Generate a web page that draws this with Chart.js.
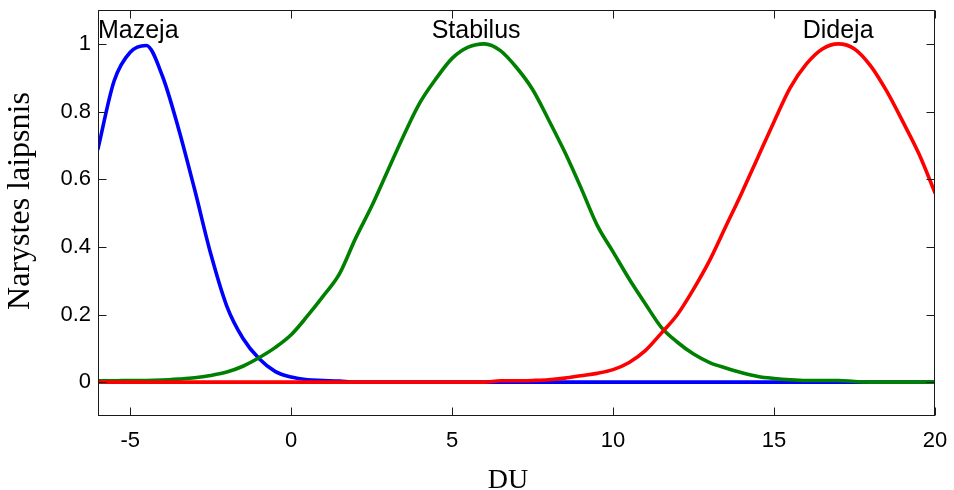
<!DOCTYPE html>
<html>
<head>
<meta charset="utf-8">
<script src="https://cdn.jsdelivr.net/npm/chart.js@4/dist/chart.umd.min.js"></script>
<style>
  html, body { margin: 0; padding: 0; background: #ffffff; }
  canvas { display: block; }
</style>
</head>
<body>
<canvas id="c" width="954" height="490"></canvas>
<script>
// ---- data ----
const xValues = [-6, -5.5, -5, -4.5, -4, -3.5, -3, -2.5, -2, -1.5, -1, -0.5,
  0, 0.5, 1, 1.5, 2, 2.5, 3, 3.5, 4, 4.5, 5, 5.5, 6, 6.5, 7, 7.5, 8, 8.5, 9, 9.5,
  10, 10.5, 11, 11.5, 12, 12.5, 13, 13.5, 14, 14.5, 15, 15.5, 16, 16.5, 17, 17.5,
  18, 18.5, 19, 19.5, 20];

const mazeja = [0.69, 0.89, 0.975, 0.995, 0.905, 0.75, 0.57, 0.38, 0.225, 0.13, 0.07, 0.032,
  0.015, 0.007, 0.005, 0.003, 0, 0, 0, 0, 0, 0, 0, 0, 0, 0, 0, 0, 0, 0, 0, 0,
  0, 0, 0, 0, 0, 0, 0, 0, 0, 0, 0, 0, 0, 0, 0, 0,
  0, 0, 0, 0, 0];

const stabilus = [0.004, 0.004, 0.005, 0.005, 0.006, 0.009, 0.013, 0.02, 0.03, 0.047, 0.072, 0.102,
  0.14, 0.195, 0.255, 0.32, 0.425, 0.52, 0.625, 0.73, 0.826, 0.897, 0.957, 0.99, 1.0, 0.98, 0.93, 0.865, 0.775, 0.68, 0.575, 0.465,
  0.385, 0.305, 0.232, 0.162, 0.118, 0.083, 0.058, 0.042, 0.028, 0.017, 0.011, 0.007, 0.005, 0.005, 0.005, 0.002,
  0, 0, 0, 0, 0];

const dideja = [0, 0, 0, 0, 0, 0, 0, 0, 0, 0, 0, 0,
  0, 0, 0, 0, 0, 0, 0, 0, 0, 0, 0, 0, 0, 0.004, 0.004, 0.005, 0.007, 0.012, 0.019, 0.026,
  0.037, 0.058, 0.093, 0.145, 0.2, 0.275, 0.36, 0.46, 0.56, 0.665, 0.77, 0.87, 0.94, 0.985, 1.0, 0.985,
  0.935, 0.86, 0.77, 0.675, 0.56];

const seriesNames = ['Mazeja', 'Stabilus', 'Dideja'];
const xTicks = [-5, 0, 5, 10, 15, 20];
const yTicks = [0, 0.2, 0.4, 0.6, 0.8, 1];
const xTitle = 'DU';
const yTitle = 'Narystes laipsnis';

function pts(arr) { return xValues.map((x, i) => ({ x: x, y: arr[i] })); }

const sansFont = "'Liberation Sans', Arial, sans-serif";
const serifFont = "'Liberation Serif', 'Times New Roman', serif";

const matlabFrame = {
  id: 'matlabFrame',
  afterDatasetsDraw(chart) {
    const { ctx, chartArea: a, scales: { x, y } } = chart;
    ctx.save();
    ctx.strokeStyle = '#1a1a1a';
    ctx.lineWidth = 1;
    const L = Math.round(a.left) + 0.5, R = Math.round(a.right) - 0.5;
    const T = Math.round(a.top) + 0.5, B = Math.round(a.bottom) - 0.5;
    ctx.strokeRect(L, T, R - L, B - T);
    const tl = 8;
    ctx.beginPath();
    xTicks.forEach(v => {
      const px = Math.round(x.getPixelForValue(v)) + 0.5;
      ctx.moveTo(px, B); ctx.lineTo(px, B - tl);
      ctx.moveTo(px, T); ctx.lineTo(px, T + tl);
    });
    yTicks.forEach(v => {
      const py = Math.round(y.getPixelForValue(v)) + 0.5;
      ctx.moveTo(L, py); ctx.lineTo(L + tl, py);
      ctx.moveTo(R, py); ctx.lineTo(R - tl, py);
    });
    ctx.stroke();

    // series name annotations
    ctx.fillStyle = '#000';
    ctx.font = '25px ' + sansFont;
    ctx.textAlign = 'center';
    ctx.textBaseline = 'alphabetic';
    const anchorX = [-4.75, 5.745, 16.99];
    seriesNames.forEach((n, i) => {
      ctx.fillText(n, x.getPixelForValue(anchorX[i]), y.getPixelForValue(1.016));
    });

    // axis titles
    ctx.font = '28px ' + serifFont;
    ctx.fillText(xTitle, 508, 488);
    ctx.save();
    ctx.translate(29, 201);
    ctx.rotate(-Math.PI / 2);
    ctx.font = '32px ' + serifFont;
    ctx.fillText(yTitle, 0, 0);
    ctx.restore();
    ctx.restore();
  }
};

new Chart(document.getElementById('c'), {
  type: 'line',
  data: {
    datasets: [
      { label: seriesNames[0], data: pts(mazeja), borderColor: '#0000ff', order: 3 },
      { label: seriesNames[1], data: pts(stabilus), borderColor: '#008000', order: 2 },
      { label: seriesNames[2], data: pts(dideja), borderColor: '#ff0000', order: 1 }
    ]
  },
  options: {
    responsive: false,
    animation: false,
    events: [],
    layout: { padding: { left: 0, right: 19, top: 10, bottom: 0 } },
    elements: {
      point: { radius: 0 },
      line: { borderWidth: 3.6, cubicInterpolationMode: 'monotone', fill: false, borderCapStyle: 'round', borderJoinStyle: 'round' }
    },
    plugins: { legend: { display: false }, tooltip: { enabled: false } },
    scales: {
      x: {
        type: 'linear', min: -6, max: 20,
        afterBuildTicks: s => { s.ticks = xTicks.map(v => ({ value: v })); },
        afterFit: s => { s.height = 74; s.paddingLeft = 0; s.paddingRight = 0; s.paddingTop = 0; s.paddingBottom = 0; },
        grid: { display: false, drawTicks: false },
        border: { display: false },
        ticks: { color: '#000', padding: 12, font: { family: sansFont, size: 22 }, maxRotation: 0, autoSkip: false,
                 callback: v => String(v) }
      },
      y: {
        type: 'linear', min: -0.1, max: 1.1,
        afterBuildTicks: s => { s.ticks = yTicks.map(v => ({ value: v })); },
        afterFit: s => { s.width = 98; s.paddingLeft = 0; s.paddingRight = 0; s.paddingTop = 0; s.paddingBottom = 0; },
        grid: { display: false, drawTicks: false },
        border: { display: false },
        ticks: { color: '#000', padding: 7, font: { family: sansFont, size: 22 }, autoSkip: false,
                 callback: v => String(v) }
      }
    }
  },
  plugins: [matlabFrame]
});
</script>
</body>
</html>
